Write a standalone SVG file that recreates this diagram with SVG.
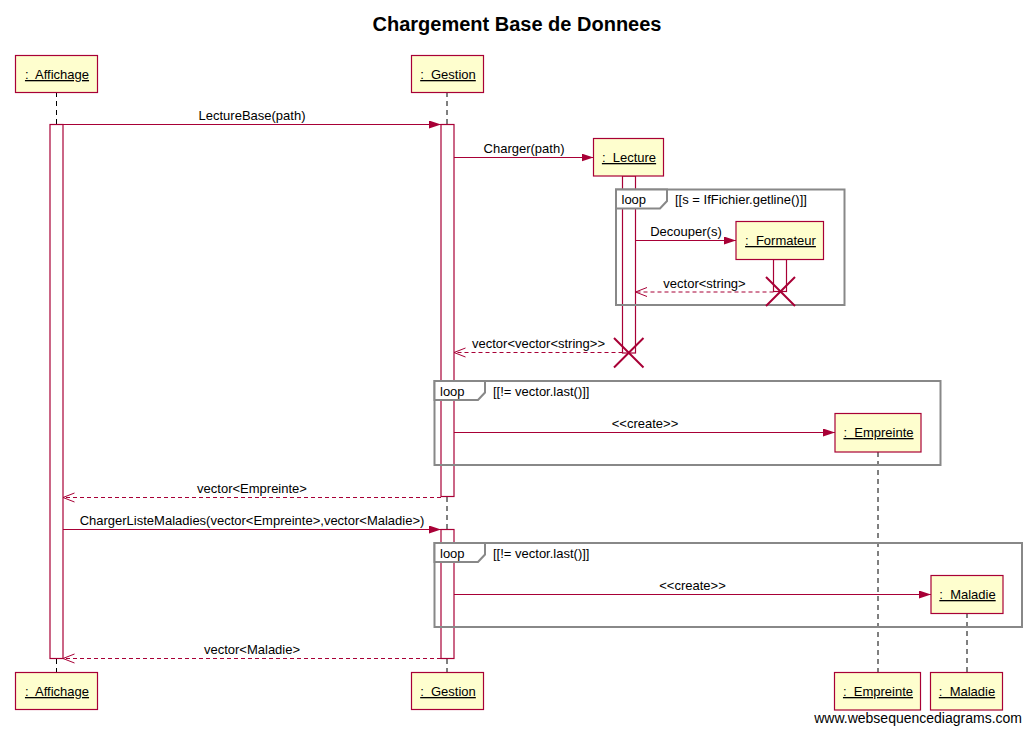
<svg xmlns="http://www.w3.org/2000/svg" width="1032" height="735" viewBox="0 0 1032 735">
<defs>
<marker id="sync" markerUnits="userSpaceOnUse" markerWidth="13" markerHeight="9" refX="12" refY="4" orient="auto">
<path d="M0,0 L12,4 L0,8 Z" fill="#A80036"/>
</marker>
<marker id="ret" markerUnits="userSpaceOnUse" markerWidth="14" markerHeight="11" refX="12.5" refY="5" orient="auto">
<path d="M1,0.5 L12.5,5 L1,9.5" fill="none" stroke="#A80036" stroke-width="1"/>
</marker>
</defs>
<style>
text{font-family:"Liberation Sans",Arial,sans-serif;fill:#000}
.title{font-size:20px;font-weight:bold}
.pname{font-size:13px;text-decoration:underline;white-space:pre}
.lbl{font-size:13px}
.part{fill:#FEFECE;stroke:#A80036;stroke-width:1.2}
.life{stroke:#000;stroke-width:1;stroke-dasharray:5,4;fill:none}
.act{fill:#fff;stroke:#A80036;stroke-width:1.2}
.msg{stroke:#A80036;stroke-width:1.2;fill:none;marker-end:url(#sync)}
.rmsg{stroke:#A80036;stroke-width:1.2;fill:none;stroke-dasharray:4,3;marker-end:url(#ret)}
.frame{fill:none;stroke:#888;stroke-width:2}
.tab{fill:#fff;stroke:#888;stroke-width:2}
.destroy{stroke:#A80036;stroke-width:2}
</style>
<rect width="1032" height="735" fill="#fff"/>
<text class="title" x="517" y="31" text-anchor="middle">Chargement Base de Donnees</text>

<g id="lifelines">
<line class="life" x1="56.5" y1="92" x2="56.5" y2="672"/>
<line class="life" x1="447" y1="92" x2="447" y2="672"/>
<line class="life" x1="878" y1="452" x2="878" y2="672"/>
<line class="life" x1="967" y1="613" x2="967" y2="672"/>
</g>

<g id="activations">
<rect class="act" x="50" y="124.5" width="13" height="534"/>
<rect class="act" x="441" y="124.5" width="13" height="372"/>
<rect class="act" x="441" y="529.5" width="13" height="129"/>
<rect class="act" x="622.5" y="176" width="13" height="177"/>
<rect class="act" x="773.5" y="259.5" width="13" height="32"/>
</g>

<g id="loop1">
<rect class="frame" x="616" y="189.5" width="228.5" height="115.5"/>
<path class="tab" d="M616,189.5 V208.5 H660 L667,201 V189.5 Z"/>
<text class="lbl" x="621.5" y="204">loop</text>
<text class="lbl" x="675" y="204">[[s = IfFichier.getline()]]</text>
</g>
<g id="loop2">
<rect class="frame" x="434.5" y="381" width="506" height="84"/>
<path class="tab" d="M434.5,381 V400 H478 L485,392.5 V381 Z"/>
<text class="lbl" x="440" y="395.5">loop</text>
<text class="lbl" x="493" y="395.5">[[!= vector.last()]]</text>
</g>
<g id="loop3">
<rect class="frame" x="434.5" y="543" width="587.5" height="84"/>
<path class="tab" d="M434.5,543 V562 H478 L485,554.5 V543 Z"/>
<text class="lbl" x="440" y="557.5">loop</text>
<text class="lbl" x="493" y="557.5">[[!= vector.last()]]</text>
</g>

<g id="connectors">
<line class="msg" x1="63" y1="124.5" x2="441" y2="124.5"/>
<text class="lbl" x="252" y="120" text-anchor="middle">LectureBase(path)</text>
<line class="msg" x1="454" y1="157.5" x2="593.5" y2="157.5"/>
<text class="lbl" x="524" y="153" text-anchor="middle">Charger(path)</text>
<line class="msg" x1="635.5" y1="240.5" x2="736" y2="240.5"/>
<text class="lbl" x="686" y="236" text-anchor="middle">Decouper(s)</text>
<line class="rmsg" x1="773.5" y1="292" x2="635.5" y2="292"/>
<text class="lbl" x="704.5" y="287.5" text-anchor="middle">vector&lt;string&gt;</text>
<line class="rmsg" x1="622.5" y1="352.5" x2="454" y2="352.5"/>
<text class="lbl" x="538.5" y="348" text-anchor="middle">vector&lt;vector&lt;string&gt;&gt;</text>
<line class="msg" x1="454" y1="432.5" x2="835" y2="432.5"/>
<text class="lbl" x="645" y="428" text-anchor="middle">&lt;&lt;create&gt;&gt;</text>
<line class="rmsg" x1="441" y1="497.5" x2="63" y2="497.5"/>
<text class="lbl" x="252" y="493" text-anchor="middle">vector&lt;Empreinte&gt;</text>
<line class="msg" x1="63" y1="529.5" x2="441" y2="529.5"/>
<text class="lbl" x="252" y="525" text-anchor="middle">ChargerListeMaladies(vector&lt;Empreinte&gt;,vector&lt;Maladie&gt;)</text>
<line class="msg" x1="454" y1="594.5" x2="931" y2="594.5"/>
<text class="lbl" x="692.5" y="590" text-anchor="middle">&lt;&lt;create&gt;&gt;</text>
<line class="rmsg" x1="441" y1="658.5" x2="63" y2="658.5"/>
<text class="lbl" x="252" y="654" text-anchor="middle">vector&lt;Maladie&gt;</text>
</g>

<g id="destroys">
<path class="destroy" d="M766,277 L795,306 M795,277 L766,306"/>
<path class="destroy" d="M614,338 L643.5,367.5 M643.5,338 L614,367.5"/>
</g>

<g id="Affichage">
<rect class="part" x="15.5" y="55.5" width="82" height="37"/>
<text class="pname" x="57" y="79" text-anchor="middle" xml:space="preserve">:  Affichage</text>
<rect class="part" x="15.5" y="672.5" width="82" height="37"/>
<text class="pname" x="57" y="696" text-anchor="middle" xml:space="preserve">:  Affichage</text>
</g>
<g id="Gestion">
<rect class="part" x="411.5" y="55.5" width="72" height="37"/>
<text class="pname" x="448" y="79" text-anchor="middle" xml:space="preserve">:  Gestion</text>
<rect class="part" x="411.5" y="672.5" width="72" height="37"/>
<text class="pname" x="448" y="696" text-anchor="middle" xml:space="preserve">:  Gestion</text>
</g>
<g id="Lecture">
<rect class="part" x="593.5" y="138.5" width="70" height="37.5"/>
<text class="pname" x="629" y="162" text-anchor="middle" xml:space="preserve">:  Lecture</text>
</g>
<g id="Formateur">
<rect class="part" x="736" y="221.5" width="87.5" height="38"/>
<text class="pname" x="780.5" y="245" text-anchor="middle" xml:space="preserve">:  Formateur</text>
</g>
<g id="Empreinte">
<rect class="part" x="835" y="413.5" width="86" height="38.5"/>
<text class="pname" x="878.5" y="437" text-anchor="middle" xml:space="preserve">:  Empreinte</text>
<rect class="part" x="834.5" y="672.5" width="86" height="37.5"/>
<text class="pname" x="878" y="696" text-anchor="middle" xml:space="preserve">:  Empreinte</text>
</g>
<g id="Maladie">
<rect class="part" x="931" y="575.5" width="72" height="38"/>
<text class="pname" x="967.5" y="599" text-anchor="middle" xml:space="preserve">:  Maladie</text>
<rect class="part" x="930.5" y="672.5" width="72" height="37.5"/>
<text class="pname" x="967" y="696" text-anchor="middle" xml:space="preserve">:  Maladie</text>
</g>

<text x="1022" y="723" text-anchor="end" style="font-size:14px">www.websequencediagrams.com</text>
</svg>
